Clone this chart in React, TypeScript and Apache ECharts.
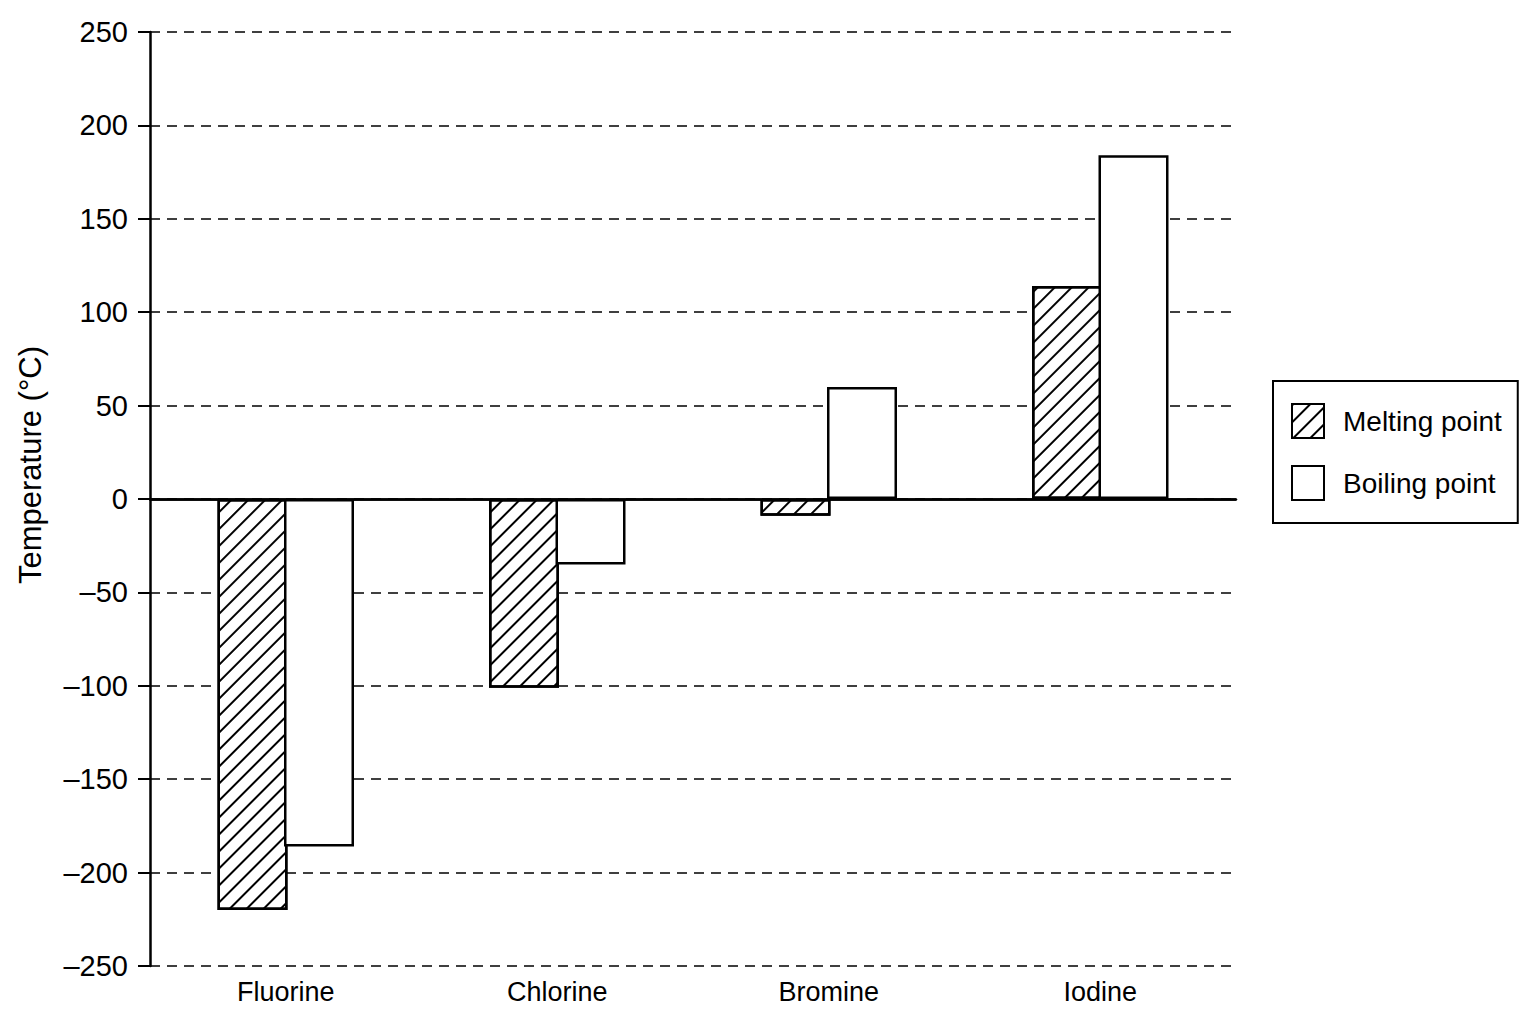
import React, { useEffect, useRef } from 'react';
import * as echarts from 'echarts';

const categories = ['Fluorine', 'Chlorine', 'Bromine', 'Iodine'];
const meltingPoint = [-220, -101, -9, 114];
const boilingPoint = [-186, -35, 60, 184];
const yTicks = { min: -250, max: 250, interval: 50 };

const FONT = "'Liberation Sans', Arial, Helvetica, sans-serif";

const hatch = {
  symbol: 'rect',
  symbolSize: 1,
  color: '#000',
  backgroundColor: '#fff',
  dashArrayX: [1, 0],
  dashArrayY: [2, 10],
  rotation: -Math.PI / 4,
};

const App = () => {
  const chartRef = useRef(null);

  useEffect(() => {
    if (!chartRef.current) return;
    const chart = echarts.init(chartRef.current, null, { renderer: 'svg' });

    const option = {
      animation: false,
      backgroundColor: '#fff',
      textStyle: { fontFamily: FONT, color: '#000' },
      grid: { left: 150, right: 300, top: 32, bottom: 58, containLabel: false },
      legend: {
        orient: 'vertical',
        left: 1273,
        top: 381,
        padding: [22, 16, 22, 18],
        itemWidth: 32,
        itemHeight: 34,
        itemGap: 26,
        borderColor: '#000',
        borderWidth: 2,
        icon: 'rect',
        textStyle: { fontSize: 28, fontFamily: FONT, color: '#000', padding: [0, 0, 0, 14] },
        data: ['Melting point', 'Boiling point'],
      },
      graphic: [
        {
          type: 'text',
          x: 30,
          y: 465,
          rotation: Math.PI / 2,
          style: {
            text: 'Temperature (°C)',
            fontSize: 31,
            fontFamily: FONT,
            fill: '#000',
            align: 'center',
            verticalAlign: 'middle',
          },
        },
      ],
      xAxis: {
        type: 'category',
        data: categories,
        axisLine: { lineStyle: { color: '#000', width: 2.5 } },
        axisTick: { show: false },
        axisLabel: { fontSize: 27, color: '#000', fontFamily: FONT, margin: 12 },
      },
      yAxis: {
        type: 'value',
        min: yTicks.min,
        max: yTicks.max,
        interval: yTicks.interval,
        axisLine: { show: true, lineStyle: { color: '#000', width: 2.5 } },
        axisTick: { show: true, length: 12, lineStyle: { color: '#000', width: 2 } },
        axisLabel: {
          fontSize: 29,
          color: '#000',
          fontFamily: FONT,
          margin: 22,
          formatter: (v) => (v < 0 ? '\u2013' + Math.abs(v) : String(v)),
        },
        splitLine: { lineStyle: { color: '#000', width: 1.5, type: [10, 7] } },
      },
      series: [
        {
          name: 'Melting point',
          type: 'bar',
          data: meltingPoint,
          barWidth: 70,
          barGap: '-5%',
          itemStyle: { color: '#fff', borderColor: '#000', borderWidth: 2.5, decal: hatch },
          markLine: {
            silent: true,
            symbol: 'none',
            label: { show: false },
            lineStyle: { color: '#000', width: 2.5, type: 'solid' },
            data: [{ yAxis: 0 }],
          },
        },
        {
          name: 'Boiling point',
          type: 'bar',
          data: boilingPoint,
          barWidth: 70,
          barGap: '-5%',
          itemStyle: { color: '#fff', borderColor: '#000', borderWidth: 2.5 },
        },
      ],
    };

    chart.setOption(option);
    return () => {
      chart.dispose();
    };
  }, []);

  return (
    <div
      ref={chartRef}
      style={{ position: 'absolute', left: 0, top: 0, width: 1536, height: 1024 }}
    />
  );
};

export default App;
